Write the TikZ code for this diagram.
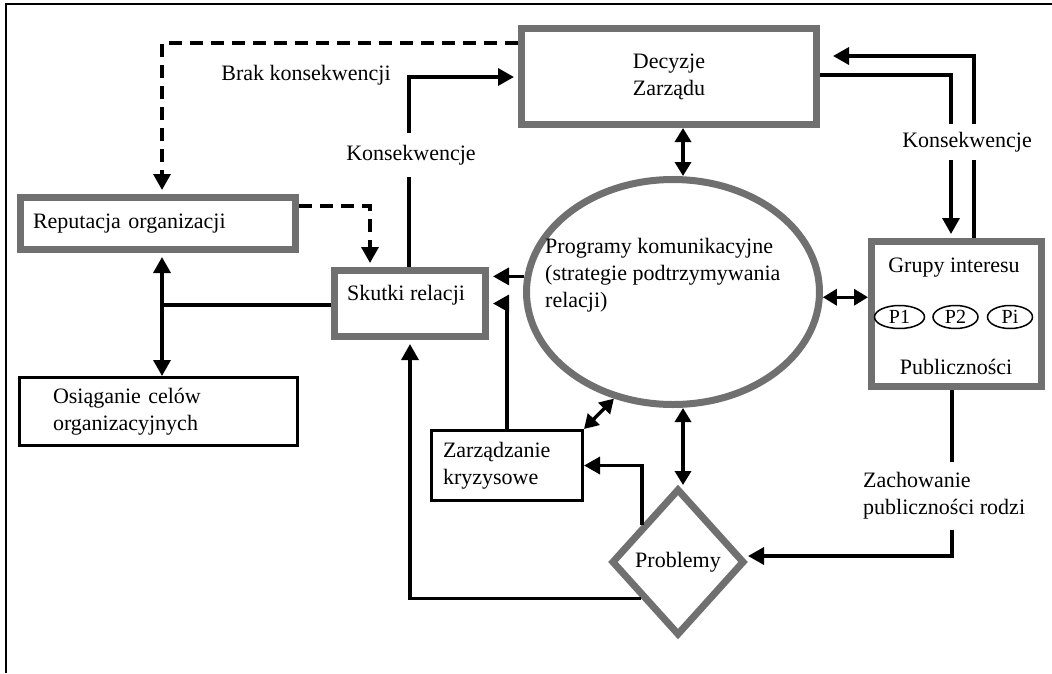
\documentclass[tikz,border=0pt]{standalone}
\usepackage{fontspec}
\setmainfont{Liberation Serif}
\usetikzlibrary{arrows.meta,shapes.geometric}
\definecolor{bgray}{RGB}{112,112,112}
\begin{document}
\begin{tikzpicture}[x=1pt,y=-1pt,
  every node/.style={font=\fontsize{22}{27}\selectfont, inner sep=0pt},
  gbox/.style={draw=bgray, line width=7pt, rectangle, fill=white},
  bbox/.style={draw=black, line width=3pt, rectangle, fill=white},
  pell/.style={draw=black, ellipse, line width=1.5pt, minimum height=23pt, font=\fontsize{20}{24}\selectfont},
  conn/.style={line width=3.4pt, draw=black},
  arr/.style={conn, -{Triangle[length=16pt,width=17pt]}},
  darr/.style={conn, {Triangle[length=14pt,width=16pt]}-{Triangle[length=14pt,width=16pt]}},
  dsh/.style={arr, dash pattern=on 13pt off 8pt},
  gs/.style={shorten >=4pt},
]
\useasboundingbox (0,0) rectangle (1052,673);
\draw[line width=2pt] (6,673) -- (6,4) -- (1052,4);

% nodes
\node[gbox, minimum width=295pt, minimum height=96pt, align=center] (decyzje) at (669,76.5) {Decyzje\\Zarządu};
\node[gbox, minimum width=275pt, minimum height=52pt, text width=250pt, align=left] (reputacja) at (158,223.5) {Reputacja organizacji};
\node[gbox, minimum width=151pt, minimum height=66pt] (skutki) at (410,303.5) {};
\node (tskutki) at (406,295) {Skutki relacji};
\node[bbox, minimum width=278pt, minimum height=68pt, text width=211pt, align=left] (osiag) at (158.5,411.5) {Osiąganie celów\\organizacyjnych};
\node[bbox, minimum width=151pt, minimum height=70pt, text width=128pt, align=left] (zarz) at (507,465.5) {Zarządzanie\\kryzysowe};
\node[gbox, ellipse, minimum width=293pt, minimum height=225pt] (prog) at (673,292) {};
\node[align=left, anchor=west] (tprog) at (545,275) {Programy komunikacyjne\\(strategie podtrzymywania\\relacji)};
\node[gbox, minimum width=170pt, minimum height=145pt] (grupy) at (956.5,314) {};
\node (tgrupy) at (954,268) {Grupy interesu};
\node (tpubl) at (956,367) {Publiczności};
\node[pell, minimum width=50pt] (p1) at (899.5,317) {P1};
\node[pell, minimum width=45pt] (p2) at (955.5,317) {P2};
\node[pell, minimum width=45pt] (pi) at (1010,317) {Pi};
\node[draw=bgray, line width=7pt, diamond, minimum width=133pt, minimum height=147pt, fill=white] (prob) at (678,562) {Problemy};

% labels
\node (brak) at (306,75) {Brak konsekwencji};
\node[inner xsep=0pt, inner ysep=12pt] (lk1) at (411,155) {Konsekwencje};
\node[inner xsep=0pt, inner ysep=8pt] (lk2) at (967,142) {Konsekwencje};
\node[align=left, anchor=west, inner xsep=0pt, inner ysep=10pt] (lz) at (863,496) {Zachowanie\\publiczności rodzi};

% connectors
\coordinate (d1) at (162,43);
\draw[dsh, gs] (decyzje.west |- d1) -- (d1) -- (d1 |- reputacja.north);
\coordinate (d2) at (370,206);
\draw[dsh, gs] (reputacja.east |- d2) -- (d2) -- (d2 |- skutki.north);

\coordinate (k1) at (409,77);
\draw[conn] (skutki.north -| k1) -- (k1 |- lk1.south);
\draw[arr, gs] (k1 |- lk1.north) -- (k1) -- (decyzje.west |- k1);

\coordinate (j) at (162,305);
\draw[arr, gs] (skutki.west |- j) -- (j) -- (j |- reputacja.south);
\draw[arr] (j) -- (j |- osiag.north);

\draw[arr, gs] (prog.174) -- (prog.174 -| skutki.east);
\draw[arr, gs] (zarz.north) |- (skutki.east);
\draw[arr, gs] (prob.225) -| (skutki.south);
\draw[arr] (prob.134) |- (zarz.east);
\draw[darr] (zarz.north east) -- (prog.241);

\coordinate (xa) at (683,0);
\draw[darr] (decyzje.south -| xa) -- (prog.north -| xa);
\draw[darr] (prog.south -| xa) -- (prob.north -| xa);
\draw[darr] (prog.358) -- (prog.358 -| grupy.west);

\coordinate (c1) at (951,75);
\draw[conn] (decyzje.east |- c1) -- (c1) -- (c1 |- lk2.north);
\draw[arr, gs] (c1 |- lk2.south) -- (c1 |- grupy.north);
\coordinate (c2) at (974,56);
\draw[conn] (c2 |- grupy.north) -- (c2 |- lk2.south);
\draw[arr, shorten >=13pt] (c2 |- lk2.north) -- (c2) -- (decyzje.east |- c2);

\coordinate (z1) at (952,556);
\draw[conn] (grupy.south -| z1) -- (z1 |- lz.north);
\draw[arr] (z1 |- lz.south) -- (z1) -- (z1 -| prob.east);
\end{tikzpicture}
\end{document}
